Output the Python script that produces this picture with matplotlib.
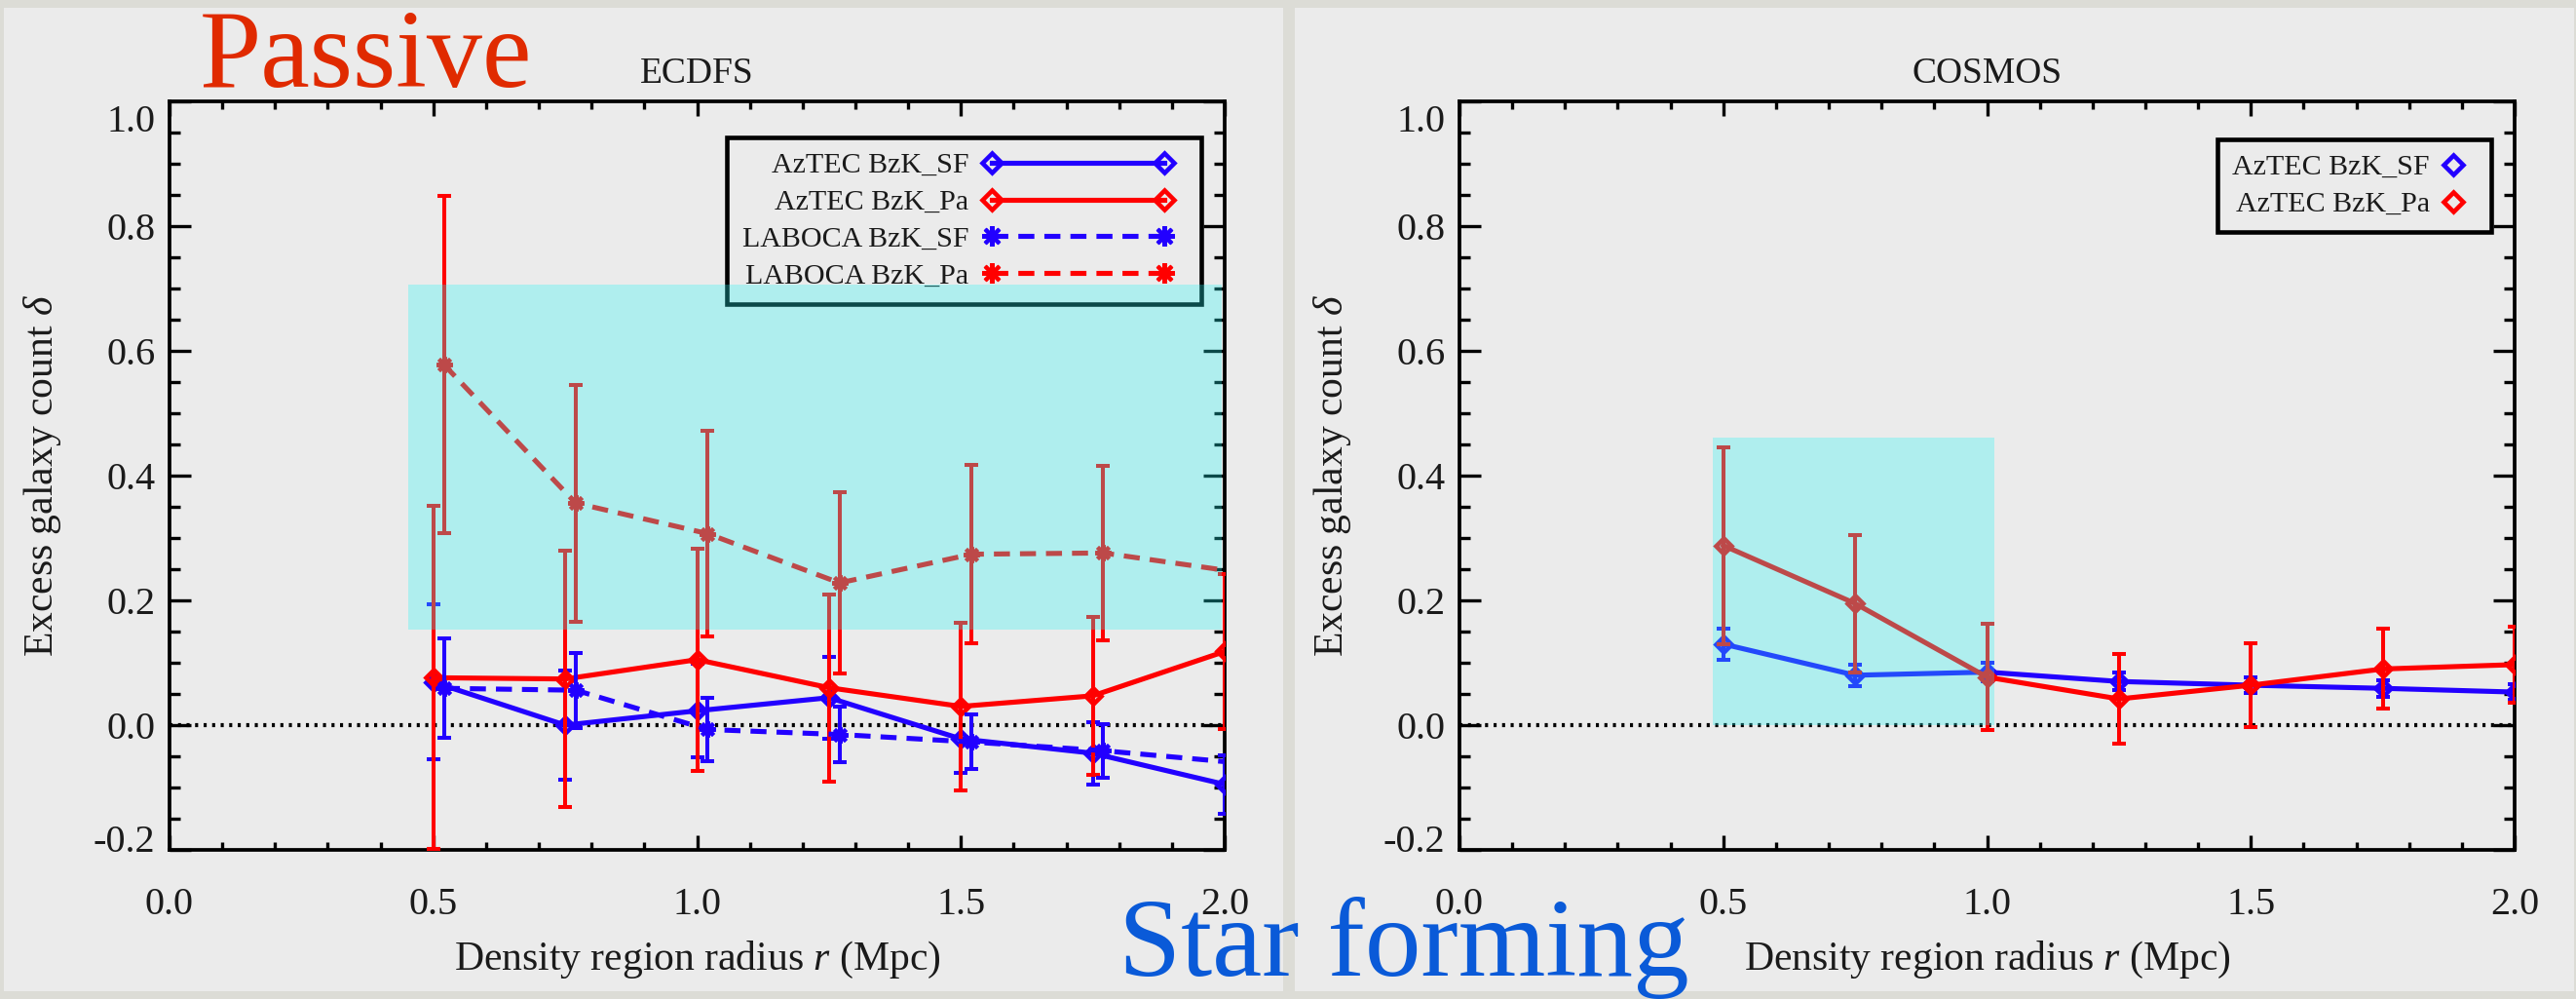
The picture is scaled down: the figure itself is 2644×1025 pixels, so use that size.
import matplotlib
matplotlib.use("Agg")
import matplotlib.pyplot as plt
from matplotlib.patches import Rectangle
from matplotlib.lines import Line2D
from matplotlib.legend_handler import HandlerLine2D
from matplotlib.ticker import MultipleLocator, FixedLocator, FixedFormatter
from matplotlib.transforms import ScaledTranslation

# ---------------------------------------------------------------- data
radius = [0.50, 0.75, 1.00, 1.25, 1.50, 1.75, 2.00]
radius_laboca = [0.52, 0.77, 1.02, 1.27, 1.52, 1.77, 2.02]

ecdfs_aztec_sf = [0.069, 0.000, 0.023, 0.044, -0.022, -0.045, -0.095]
ecdfs_aztec_sf_err = [0.124, 0.088, 0.075, 0.066, 0.055, 0.050, 0.047]
ecdfs_aztec_pa = [0.076, 0.074, 0.105, 0.060, 0.030, 0.047, 0.118]
ecdfs_aztec_pa_err = [0.275, 0.205, 0.178, 0.150, 0.134, 0.126, 0.124]
ecdfs_laboca_sf = [0.059, 0.056, -0.007, -0.015, -0.027, -0.041, -0.060]
ecdfs_laboca_sf_err = [0.080, 0.060, 0.051, 0.045, 0.044, 0.043, 0.043]
ecdfs_laboca_pa = [0.578, 0.356, 0.307, 0.228, 0.274, 0.276, 0.246]
ecdfs_laboca_pa_err = [0.270, 0.190, 0.165, 0.145, 0.143, 0.140, 0.140]

cosmos_aztec_sf = [0.130, 0.080, 0.085, 0.070, 0.064, 0.059, 0.053]
cosmos_aztec_sf_err = [0.025, 0.017, 0.015, 0.014, 0.013, 0.013, 0.013]
cosmos_aztec_pa = [0.288, 0.195, 0.077, 0.042, 0.064, 0.090, 0.097]
cosmos_aztec_pa_err = [0.158, 0.110, 0.085, 0.072, 0.067, 0.064, 0.061]

series_labels = ["AzTEC BzK_SF", "AzTEC BzK_Pa", "LABOCA BzK_SF", "LABOCA BzK_Pa"]
panel_titles = ["ECDFS", "COSMOS"]

xtick_values = [0.0, 0.5, 1.0, 1.5, 2.0]
xtick_labels = ["0.0", "0.5", "1.0", "1.5", "2.0"]
ytick_values = [-0.2, 0.0, 0.2, 0.4, 0.6, 0.8, 1.0]
ytick_labels = ["-0.2", "0.0", "0.2", "0.4", "0.6", "0.8", "1.0"]

# highlighted regions: (r0, d0, r1, d1)
ecdfs_region = (0.452, 0.153, 1.995, 0.707)
cosmos_region = (0.480, 0.000, 1.013, 0.461)

# ---------------------------------------------------------------- style
W, H, DPI = 2644, 1025, 100
RED = "#ff0000"
BLUE = "#2200ff"
INK = "#1a1a1a"

plt.rcParams["font.family"] = ["Liberation Serif", "DejaVu Serif"]
plt.rcParams["mathtext.fontset"] = "custom"
plt.rcParams["mathtext.rm"] = "Liberation Serif"
plt.rcParams["mathtext.it"] = "Liberation Serif:italic"
plt.rcParams["axes.unicode_minus"] = False

fig = plt.figure(figsize=(W / DPI, H / DPI), dpi=DPI)
fig.patch.set_facecolor("#dcdcd6")


def px_box(x0, y0, x1, y1):
    """Figure-fraction rectangle from pixel corners measured from the top-left."""
    return [x0 / W, 1 - y1 / H, (x1 - x0) / W, (y1 - y0) / H]


# two slide panels behind the plots
for x0, x1 in [(4, 1317), (1329, 2642)]:
    fig.add_artist(Rectangle((x0 / W, 1 - 1017 / H), (x1 - x0) / W, (1017 - 8) / H,
                             transform=fig.transFigure, facecolor="#ebebeb",
                             edgecolor="none", zorder=-5))

ax_l = fig.add_axes(px_box(174, 104, 1257, 872))
ax_r = fig.add_axes(px_box(1498, 104, 2581, 872))


def style_axes(ax, title):
    ax.set_facecolor("none")
    ax.set_xlim(0.0, 2.0)
    ax.set_ylim(-0.2, 1.0)
    ax.xaxis.set_major_locator(FixedLocator(xtick_values))
    ax.xaxis.set_major_formatter(FixedFormatter(xtick_labels))
    ax.yaxis.set_major_locator(FixedLocator(ytick_values))
    ax.yaxis.set_major_formatter(FixedFormatter(ytick_labels))
    ax.xaxis.set_minor_locator(MultipleLocator(0.1))
    ax.yaxis.set_minor_locator(MultipleLocator(0.05))
    for sp in ax.spines.values():
        sp.set_linewidth(2.7)
        sp.set_color("black")
    ax.tick_params(which="both", direction="in", top=True, right=True,
                   width=2.4, color="black", labelcolor=INK, labelsize=29)
    ax.tick_params(axis="x", which="major", length=10.8, pad=27)
    ax.tick_params(axis="x", which="minor", length=5.5)
    ax.tick_params(axis="y", which="major", length=15.6, pad=10.5)
    ax.tick_params(axis="y", which="minor", length=7.8)

    # end labels sit inside the axis span
    yt = ax.yaxis.get_major_ticks()
    yt[-1].label1.set_transform(yt[-1].label1.get_transform()
                                + ScaledTranslation(0, -0.17, fig.dpi_scale_trans))
    yt[0].label1.set_transform(yt[0].label1.get_transform()
                               + ScaledTranslation(0, 0.12, fig.dpi_scale_trans))

    ax.set_title(title, fontsize=27, color=INK, pad=13.7)
    ax.set_xlabel("Density region radius $r$ (Mpc)", fontsize=30, color=INK, va="baseline")
    ax.xaxis.set_label_coords(0.5, (872 - 995) / 768)
    ax.set_ylabel("Excess galaxy count $\\delta$", fontsize=30, color=INK, va="baseline")
    ax.yaxis.set_label_coords(-0.111, 0.5)

    ax.axhline(0.0, color="black", lw=3.0, ls=(0, (0.75, 1.35)), zorder=1)


DIAMOND = dict(marker="D", ms=8.0, mew=3.3)
ASTER = dict(marker=(8, 2, 0), ms=12, mew=2.9)
DASH = (0, (3.2, 2.0))


def draw_series(ax, x, y, err, color, ls, mk, label, z):
    ax.errorbar(x, y, yerr=err, fmt="none", ecolor=color, elinewidth=2.9,
                capsize=4.7, capthick=2.9, zorder=z)
    ax.plot(x, y, color=color, lw=3.7, ls=ls, mfc="none", mec=color,
            label=label, zorder=z + 0.1, **mk)


style_axes(ax_l, panel_titles[0])
style_axes(ax_r, panel_titles[1])

# ECDFS
draw_series(ax_l, radius, ecdfs_aztec_sf, ecdfs_aztec_sf_err, BLUE, "-", DIAMOND, series_labels[0], 3)
draw_series(ax_l, radius, ecdfs_aztec_pa, ecdfs_aztec_pa_err, RED, "-", DIAMOND, series_labels[1], 4)
draw_series(ax_l, radius_laboca, ecdfs_laboca_sf, ecdfs_laboca_sf_err, BLUE, DASH, ASTER, series_labels[2], 5)
draw_series(ax_l, radius_laboca, ecdfs_laboca_pa, ecdfs_laboca_pa_err, RED, DASH, ASTER, series_labels[3], 6)

# COSMOS
draw_series(ax_r, radius, cosmos_aztec_sf, cosmos_aztec_sf_err, BLUE, "-", DIAMOND, None, 3)
draw_series(ax_r, radius, cosmos_aztec_pa, cosmos_aztec_pa_err, RED, "-", DIAMOND, None, 4)

leg_common = dict(loc="upper right", borderaxespad=0, fontsize=21.6, markerfirst=False,
                  markerscale=1.25, fancybox=False, framealpha=1, facecolor="#ebebeb",
                  edgecolor="black", labelcolor=INK, borderpad=0.51, labelspacing=0.36)

leg_l = ax_l.legend(bbox_to_anchor=((1233 - 174) / 1083, (872 - 141) / 768),
                    numpoints=2, handlelength=7.4, handletextpad=0.05,
                    handler_map={Line2D: HandlerLine2D(marker_pad=0.75)}, **leg_common)
leg_l.get_frame().set_linewidth(3.3)
leg_l.set_zorder(10)

cosmos_handles = [Line2D([], [], ls="none", mfc="none", mec=c, **DIAMOND) for c in (BLUE, RED)]
leg_r = ax_r.legend(cosmos_handles, series_labels[:2],
                    bbox_to_anchor=((2557 - 1498) / 1083, (872 - 143) / 768),
                    numpoints=1, handlelength=1.6, handletextpad=0.0, **leg_common)
leg_r.get_frame().set_linewidth(3.3)
leg_r.set_zorder(10)

# translucent highlight boxes laid over the plots
for ax, (r0, d0, r1, d1) in [(ax_l, ecdfs_region), (ax_r, cosmos_region)]:
    ax.add_patch(Rectangle((r0, d0), r1 - r0, d1 - d0, facecolor="#26f5f5", alpha=0.3,
                           edgecolor="none", zorder=20, clip_on=False))

# slide captions
fig.text(205 / W, 1 - 89 / H, "Passive", color="#e02a00", fontsize=82,
         ha="left", va="baseline", zorder=30)
fig.text(1148 / W, 1 - 1001 / H, "Star forming", color="#0a5ad8", fontsize=83,
         ha="left", va="baseline", zorder=30)

fig.savefig("out.png", dpi=DPI, facecolor=fig.get_facecolor())
